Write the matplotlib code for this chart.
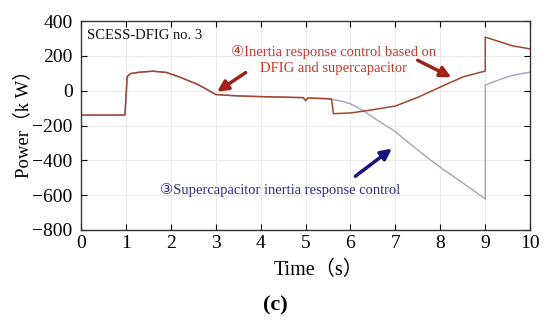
import numpy as np
import matplotlib
matplotlib.use("Agg")
import matplotlib.pyplot as plt

plt.rcParams['font.family'] = ['Liberation Serif', 'DejaVu Sans', 'Noto Sans CJK SC']

# Common part of both curves (before 5.6 s)
t_common = [0, 0.98, 1.0, 1.03, 1.1, 1.3, 1.6, 1.9, 2.2, 2.6, 2.8, 3.0, 3.5, 4.0, 4.5, 4.95, 5.0, 5.05, 5.5, 5.58]
p_common = [-140, -140, -60, 80, 98, 106, 112, 105, 78, 36, 8, -22, -30, -34, -37, -40, -57, -42, -46, -49]

# Curve 4: inertia response control based on DFIG and supercapacitor
t_dfig_sc = [5.62, 6.0, 6.3, 6.6, 7.0, 7.5, 8.0, 8.5, 9.0, 9.0, 9.3, 9.6, 10.0]
p_dfig_sc = [-132, -128, -117, -105, -88, -38, 21, 79, 113, 308, 283, 258, 240]

# Curve 3: supercapacitor inertia response control
t_sc = [5.62, 5.8, 6.0, 6.3, 6.6, 7.0, 7.22, 7.5, 7.78, 8.0, 8.5, 9.0, 9.0, 9.3, 9.6, 10.0]
p_sc = [-51, -60, -75, -117, -170, -235, -283, -340, -398, -440, -530, -622, 32, 62, 88, 107]

red_line = '#A3452E'
blue_line = '#9EA3C2'

fig = plt.figure(figsize=(5.5, 3.29), dpi=100)
ax = fig.add_axes([0.147, 0.301, 0.817, 0.635])

ax.plot(t_common + t_sc, p_common + p_sc, color=blue_line, lw=1.0)
ax.plot(t_common + t_dfig_sc, p_common + p_dfig_sc, color=red_line, lw=1.1)

ax.set_xlim(0, 10)
ax.set_ylim(-800, 400)
ax.set_xticks(np.arange(0, 11, 1))
ax.set_yticks(np.arange(-800, 401, 200))
ax.grid(True, color='#E6E6E6', lw=0.6)
ax.tick_params(direction='in', top=True, right=True, labelsize=14, length=4, width=0.8)
ax.tick_params(axis='y', pad=6)
for s in ax.spines.values():
    s.set_linewidth(1.0)
    s.set_color('#333333')

# axis titles placed as in the original figure
fig.text(319 / 550, 1 - 270 / 329, 'Time（s）', fontsize=14.5, ha='center', va='center')
fig.text(23 / 550, 1 - 119 / 329, 'Power（k W）', fontsize=13.5, ha='center', va='center', rotation=90)

ax.text(0.13, 318, 'SCESS-DFIG no. 3', fontsize=10.5, va='center', ha='left', color='#111111')
ax.text(5.62, 176, '④Inertia response control based on\nDFIG and supercapacitor',
        fontsize=10.5, ha='center', va='center', color='#C0392B', linespacing=1.35)
ax.text(1.76, -570, '③Supercapacitor inertia response control', fontsize=10.5,
        ha='left', va='center', color='#2E2A85')

arrow_red = dict(arrowstyle='-|>', lw=2.5, mutation_scale=16, ec='#9B2318', fc='#E4141B')
ax.annotate('', xy=(2.98, -15), xytext=(3.72, 113), arrowprops=arrow_red)
ax.annotate('', xy=(8.3, 70), xytext=(7.44, 182), arrowprops=arrow_red)
ax.annotate('', xy=(6.97, -323), xytext=(6.06, -501),
            arrowprops=dict(arrowstyle='-|>', lw=2.5, mutation_scale=16, color='#14147A'))

fig.text(275 / 550, 1 - 305 / 329, '(c)', fontsize=16, fontweight='bold', ha='center', va='center')

fig.savefig('out.png', dpi=100)
